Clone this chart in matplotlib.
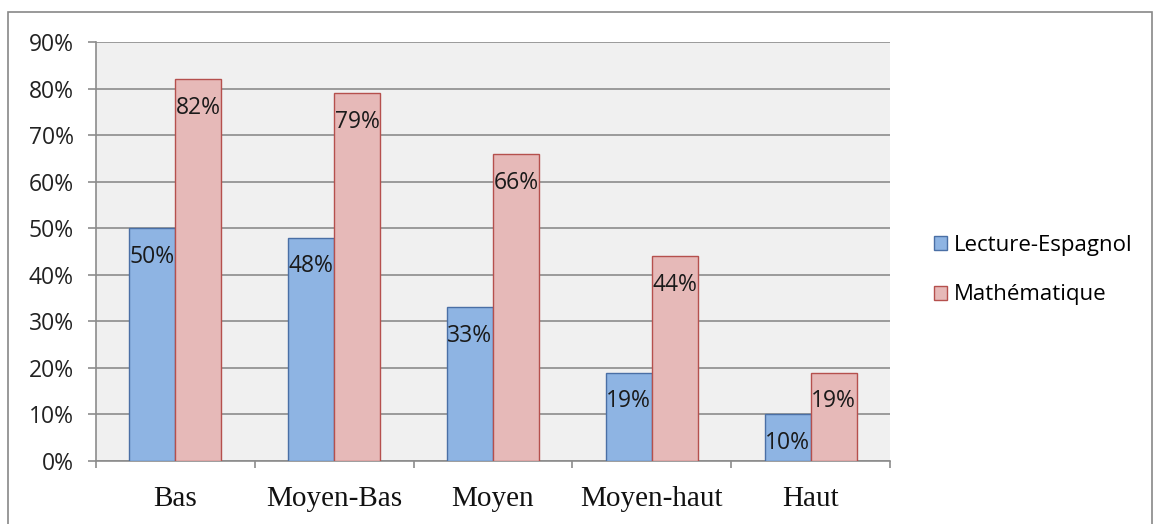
import numpy as np
import matplotlib.pyplot as plt
from matplotlib.patches import Rectangle

categories = ["Bas", "Moyen-Bas", "Moyen", "Moyen-haut", "Haut"]
lecture = [50, 48, 33, 19, 10]
maths = [82, 79, 66, 44, 19]
series_names = ["Lecture-Espagnol", "Mathématique"]

W, H = 1157, 524
fig = plt.figure(figsize=(W / 100, H / 100), dpi=100)
fig.patches.append(Rectangle((8 / W, -0.1), 1144 / W, 1.1 - 12 / H, transform=fig.transFigure,
                             fill=False, edgecolor="#888888", linewidth=1.2))

ax = fig.add_axes([96 / W, 1 - 461 / H, 794 / W, 419 / H])
ax.set_facecolor("#F0F0F0")

x = np.arange(len(categories))
bw = 0.29
b1 = ax.bar(x - bw / 2, lecture, bw, color="#8EB4E3", edgecolor="#4A6FA5", linewidth=1, label=series_names[0], zorder=3)
b2 = ax.bar(x + bw / 2, maths, bw, color="#E6B9B8", edgecolor="#B5504D", linewidth=1, label=series_names[1], zorder=3)

for bars, vals in [(b1, lecture), (b2, maths)]:
    for rect, v in zip(bars, vals):
        ax.text(rect.get_x() + rect.get_width() / 2, v - 6.2, f"{v}%", ha="center", va="center",
                fontsize=16.5, family="Open Sans", color="#1a1a1a", zorder=4)

ax.set_xlim(-0.5, len(categories) - 0.5)
ax.set_ylim(0, 90)
ax.set_yticks(np.arange(0, 91, 10))
ax.set_yticklabels([f"{v}%" for v in range(0, 91, 10)], family="Open Sans", fontsize=16.5, color="#222222")
ax.yaxis.grid(True, color="#8C8C8C", linewidth=1.2, zorder=1)
ax.set_axisbelow(True)

ax.set_xticks(x)
ax.set_xticklabels(categories, family="Liberation Serif", fontsize=21, color="#111111")
ax.set_xticks(np.arange(-0.5, len(categories)), minor=True)
ax.tick_params(axis="x", which="major", length=0, pad=18)
ax.tick_params(axis="x", which="minor", length=5, color="#8C8C8C", width=1.2)
ax.tick_params(axis="y", length=6, color="#8C8C8C", width=1.2, pad=10)

for s in ["top", "right"]:
    ax.spines[s].set_visible(False)
for s in ["left", "bottom"]:
    ax.spines[s].set_color("#8C8C8C")
    ax.spines[s].set_linewidth(1.2)

leg = fig.legend(handles=[b1, b2], loc="center left", bbox_to_anchor=(914 / W, 1 - 270 / H),
                 frameon=False, prop={"family": "Open Sans", "size": 16},
                 handlelength=0.6, handleheight=0.6, handletextpad=0.3, labelspacing=1.3)

fig.savefig("out.png", dpi=100)
